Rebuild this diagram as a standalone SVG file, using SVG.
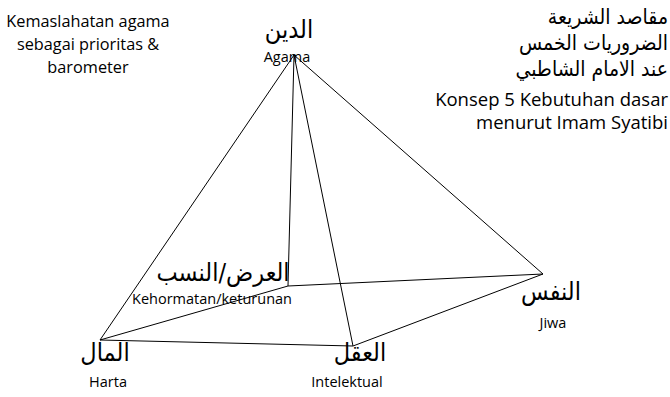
<svg xmlns="http://www.w3.org/2000/svg" width="670" height="397" viewBox="0 0 670 397">
<style>
.lat{font-family:"Open Sans","Liberation Sans",sans-serif;fill:#000}
.ar{font-family:"DejaVu Sans Condensed","DejaVu Sans",sans-serif;fill:#000}
.edge{stroke:#000;stroke-width:1;fill:none}
</style>
<rect width="670" height="397" fill="#fff"/>
<g id="connectors">
<line class="edge" x1="294" y1="55" x2="100" y2="340"/>
<line class="edge" x1="294" y1="55" x2="288" y2="286"/>
<line class="edge" x1="294" y1="55" x2="353" y2="346"/>
<line class="edge" x1="294" y1="55" x2="543" y2="274"/>
<line class="edge" x1="100" y1="340" x2="353" y2="346"/>
<line class="edge" x1="353" y1="346" x2="543" y2="274"/>
<line class="edge" x1="543" y1="274" x2="288" y2="286"/>
<line class="edge" x1="288" y1="286" x2="100" y2="340"/>
</g>
<g id="note-left">
<text class="lat" font-size="16.3" text-anchor="middle" x="88" y="27">Kemaslahatan agama</text>
<text class="lat" font-size="16.3" text-anchor="middle" x="88" y="50">sebagai prioritas &amp;</text>
<text class="lat" font-size="16.3" text-anchor="middle" x="88" y="73">barometer</text>
</g>
<g id="note-right">
<text class="ar" font-size="21" text-anchor="end" x="668" y="24">مقاصد الشريعة</text>
<text class="ar" font-size="21" text-anchor="end" x="668" y="50">الضروريات الخمس</text>
<text class="ar" font-size="21" text-anchor="end" x="668" y="76">عند الامام الشاطبي</text>
<text class="lat" font-size="18.5" text-anchor="end" x="668" y="106">Konsep 5 Kebutuhan dasar</text>
<text class="lat" font-size="18.5" text-anchor="end" x="668" y="129">menurut Imam Syatibi</text>
</g>
<g id="node-din">
<text class="ar" font-size="25" text-anchor="middle" x="289" y="38">الدين</text>
<text class="lat" font-size="14.5" text-anchor="middle" x="287" y="62">Agama</text>
</g>
<g id="node-ird">
<text class="ar" font-size="25" text-anchor="middle" x="223" y="281">العرض/النسب</text>
<text class="lat" font-size="14.5" text-anchor="middle" x="212" y="304">Kehormatan/keturunan</text>
</g>
<g id="node-nafs">
<text class="ar" font-size="25" text-anchor="middle" x="551" y="300">النفس</text>
<text class="lat" font-size="14.5" text-anchor="middle" x="553" y="328">Jiwa</text>
</g>
<g id="node-mal">
<text class="ar" font-size="25" text-anchor="middle" x="105" y="361">المال</text>
<text class="lat" font-size="14.5" text-anchor="middle" x="108" y="387">Harta</text>
</g>
<g id="node-aql">
<text class="ar" font-size="25" text-anchor="middle" x="360" y="361">العقل</text>
<text class="lat" font-size="14.5" text-anchor="middle" x="347" y="387">Intelektual</text>
</g>
</svg>
